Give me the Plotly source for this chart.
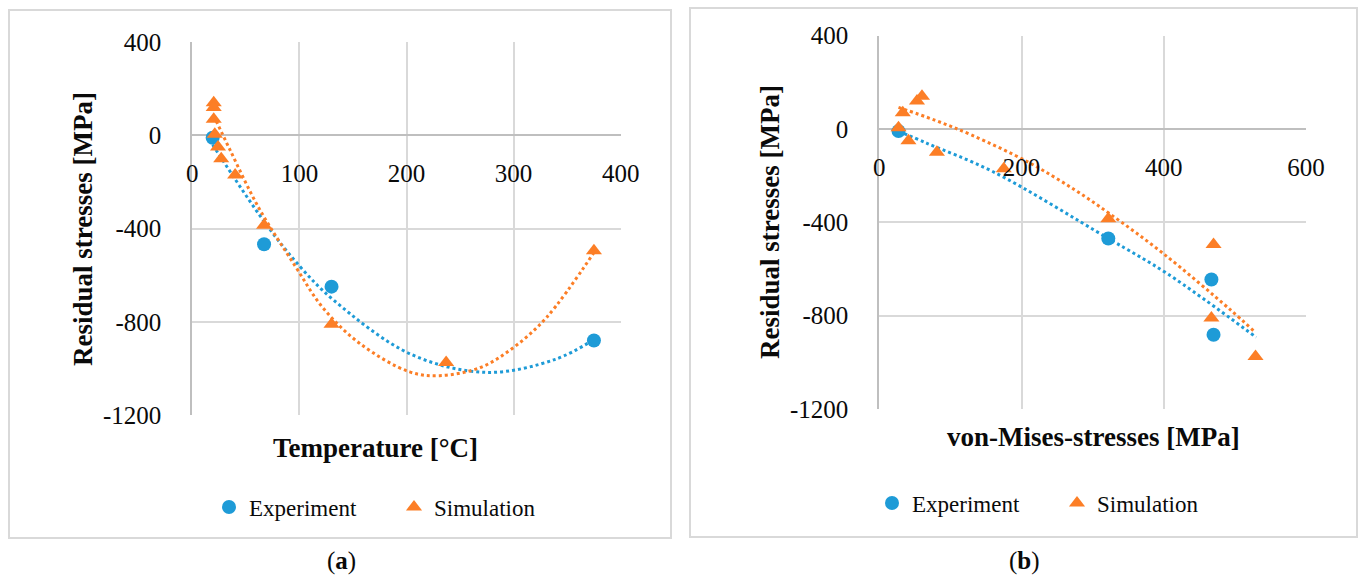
import plotly.graph_objects as go

# ---------------- data ----------------
# (a) Residual stresses vs temperature
temp_exp = [19, 67, 130, 375]
rs_exp_a = [-10, -467, -649, -880]
temp_sim = [20, 20, 20, 21, 24, 27, 40, 67, 130, 237, 375]
rs_sim_a = [140, 120, 70, 5, -50, -100, -170, -385, -810, -975, -495]

# polynomial trendlines (a)
trend_exp_a_x = [19, 67, 100, 132, 204, 275, 339, 375]
trend_exp_a_y = [-40, -369, -560, -707, -939, -1017, -961, -876]
trend_sim_a_x = [20, 35, 62, 96, 122, 157, 203, 231, 269, 300, 331, 376]
trend_sim_a_y = [85, -60, -310, -560, -740, -895, -1015, -1031, -996, -910, -780, -496]

# (b) Residual stresses vs von-Mises stresses
vm_exp = [27, 322, 467, 470]
rs_exp_b = [-9, -469, -645, -882]
vm_sim = [27, 33, 41, 53, 60, 81, 175, 322, 467, 470, 529]
rs_sim_b = [5, 70, -50, 120, 140, -100, -170, -385, -810, -495, -975]

# polynomial trendlines (b)
trend_exp_b_x = [27, 67, 160, 322, 405, 530]
trend_exp_b_y = [-9, -61, -183, -469, -620, -893]
trend_sim_b_x = [27, 78, 130, 210, 275, 323, 399, 493, 526]
trend_sim_b_y = [93, 38, -26, -143, -261, -361, -533, -773, -864]

y_ticks = [-1200, -800, -400, 0, 400]
x_ticks_a = [0, 100, 200, 300, 400]
x_ticks_b = [0, 200, 400, 600]

series_names = ["Experiment", "Simulation"]

BLUE = "#1E9BD7"
ORANGE = "#FC7E26"
GRID = "#D9D9D9"
AXIS = "#BFBFBF"
FONT = "Liberation Serif"
TXT = "#0A0A0A"

W, H = 1365, 575


def px_x(p):
    return p / W


def px_y(p):
    return 1 - p / H


fig = go.Figure()


def add_panel(xa, ya, leg, ex, ey, sx, sy, tex, tey, tsx, tsy):
    fig.add_trace(go.Scatter(x=tex, y=tey, mode="lines", line=dict(color=BLUE, width=3, dash="dot", shape="spline"),
                             showlegend=False, hoverinfo="skip", xaxis=xa, yaxis=ya))
    fig.add_trace(go.Scatter(x=tsx, y=tsy, mode="lines", line=dict(color=ORANGE, width=3, dash="dot", shape="spline"),
                             showlegend=False, hoverinfo="skip", xaxis=xa, yaxis=ya))
    fig.add_trace(go.Scatter(x=ex, y=ey, mode="markers", name=series_names[0],
                             marker=dict(symbol="circle", size=14, color=BLUE),
                             xaxis=xa, yaxis=ya, legend=leg))
    fig.add_trace(go.Scatter(x=sx, y=sy, mode="markers", name=series_names[1],
                             marker=dict(symbol="triangle-up", size=14, color=ORANGE),
                             xaxis=xa, yaxis=ya, legend=leg))


add_panel("x", "y", "legend", temp_exp, rs_exp_a, temp_sim, rs_sim_a,
          trend_exp_a_x, trend_exp_a_y, trend_sim_a_x, trend_sim_a_y)
add_panel("x2", "y2", "legend2", vm_exp, rs_exp_b, vm_sim, rs_sim_b,
          trend_exp_b_x, trend_exp_b_y, trend_sim_b_x, trend_sim_b_y)

tick_font = dict(family=FONT, size=25, color=TXT)


def xaxis(dom, rng, ticks, ypos):
    return dict(domain=dom, range=rng, tickvals=ticks, ticktext=[str(t) for t in ticks],
                showgrid=True, gridcolor=GRID, gridwidth=1.5,
                zeroline=False, showline=False, ticks="", tickfont=tick_font,
                anchor="free", position=ypos, ticklabelstandoff=21, automargin=False, fixedrange=True)


def yaxis(dom, anchor):
    return dict(domain=dom, range=[-1200, 400], tickvals=y_ticks, ticktext=[str(t) for t in y_ticks],
                showgrid=True, gridcolor=GRID, gridwidth=1.5,
                zeroline=True, zerolinecolor=AXIS, zerolinewidth=2,
                showline=True, linecolor=AXIS, linewidth=2, ticks="", tickfont=tick_font,
                anchor=anchor, ticklabelstandoff=24, automargin=False, fixedrange=True)


# plot area pixel geometry
ax_a = dict(x0=192.3, x1=620.7, ytop=42.3, ybot=415.0, yzero=135.0)
ax_b = dict(x0=879.3, x1=1306.0, ytop=35.7, ybot=409.0, yzero=129.0)

title_font = dict(family=FONT, size=27, color=TXT)
legend_font = dict(family=FONT, size=23, color=TXT)


def legend(xpx, ypx):
    return dict(orientation="h", x=px_x(xpx), y=px_y(ypx), xanchor="left", yanchor="middle",
                font=legend_font, entrywidth=140, entrywidthmode="pixels", itemclick=False,
                itemdoubleclick=False, bgcolor="rgba(0,0,0,0)")


fig.update_layout(
    width=W, height=H, margin=dict(l=0, r=0, t=0, b=0, autoexpand=False),
    paper_bgcolor="white", plot_bgcolor="white",
    xaxis=xaxis([px_x(ax_a["x0"]), px_x(ax_a["x1"])], [0, 400], x_ticks_a, px_y(ax_a["yzero"])),
    yaxis=yaxis([px_y(ax_a["ybot"]), px_y(ax_a["ytop"])], "x"),
    xaxis2=xaxis([px_x(ax_b["x0"]), px_x(ax_b["x1"])], [0, 600], x_ticks_b, px_y(ax_b["yzero"])),
    yaxis2=yaxis([px_y(ax_b["ybot"]), px_y(ax_b["ytop"])], "x2"),
    legend=legend(209, 507),
    legend2=legend(872, 503),
    shapes=[
        dict(type="rect", xref="paper", yref="paper", x0=px_x(9), x1=px_x(671), y0=px_y(538), y1=px_y(10),
             line=dict(color=GRID, width=2), fillcolor="rgba(0,0,0,0)", layer="below"),
        dict(type="rect", xref="paper", yref="paper", x0=px_x(690), x1=px_x(1357), y0=px_y(537), y1=px_y(8),
             line=dict(color=GRID, width=2), fillcolor="rgba(0,0,0,0)", layer="below"),
    ],
    annotations=[
        dict(text="<b>Temperature [°C]</b>", xref="paper", yref="paper", x=px_x(375), y=px_y(448),
             xanchor="center", yanchor="middle", showarrow=False, font=title_font),
        dict(text="<b>Residual stresses [MPa]</b>", xref="paper", yref="paper", x=px_x(83), y=px_y(229),
             xanchor="center", yanchor="middle", showarrow=False, font=title_font, textangle=-90),
        dict(text="<b>von-Mises-stresses [MPa]</b>", xref="paper", yref="paper", x=px_x(1093), y=px_y(437),
             xanchor="center", yanchor="middle", showarrow=False, font=title_font),
        dict(text="<b>Residual stresses [MPa]</b>", xref="paper", yref="paper", x=px_x(770), y=px_y(222),
             xanchor="center", yanchor="middle", showarrow=False, font=title_font, textangle=-90),
        dict(text="(<b>a</b>)", xref="paper", yref="paper", x=px_x(341), y=px_y(561),
             xanchor="center", yanchor="middle", showarrow=False, font=dict(family=FONT, size=25, color=TXT)),
        dict(text="(<b>b</b>)", xref="paper", yref="paper", x=px_x(1024), y=px_y(561),
             xanchor="center", yanchor="middle", showarrow=False, font=dict(family=FONT, size=25, color=TXT)),
    ],
)

fig.write_html("out.html")
